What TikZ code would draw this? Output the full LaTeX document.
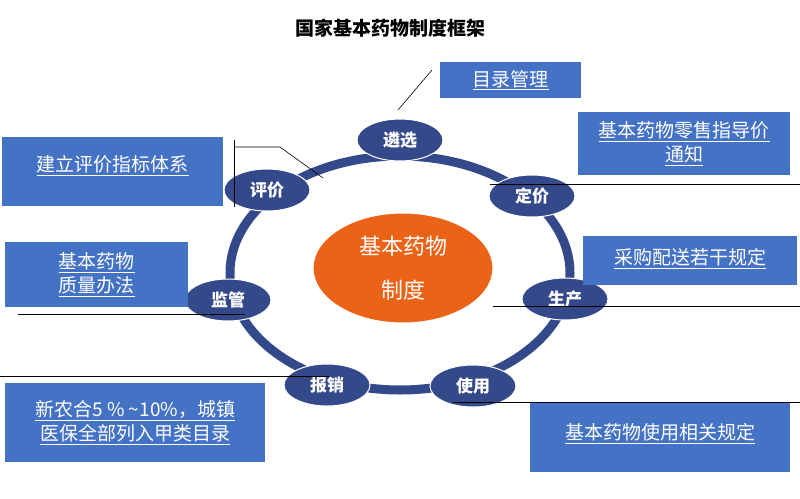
\documentclass[tikz,border=0pt]{standalone}
\usepackage{fontspec}
\setmainfont{Noto Sans CJK SC}
\newcommand\myul[1]{\underline{#1}}
\usetikzlibrary{shapes.geometric}
\definecolor{bx}{HTML}{4472C4}
\definecolor{rg}{HTML}{34498A}
\definecolor{og}{HTML}{EB6316}
\tikzset{
 box/.style={fill=bx,text=white,font=\fontsize{19}{24}\selectfont,align=center,anchor=north west,inner sep=0pt},
 st/.style={ellipse,fill=rg,draw=white,line width=1pt,minimum width=86pt,minimum height=42pt,text=white,font=\fontsize{17}{20}\selectfont\bfseries,inner sep=0pt},
 ln/.style={black,line width=0.6pt}
}
\begin{document}
\begin{tikzpicture}[x=1pt,y=-1pt]
\useasboundingbox (0,0) rectangle (800,498);
\node[font=\fontsize{19}{22}\selectfont\bfseries] (title) at (390,28) {国家基本药物制度框架};
\draw[rg,line width=9pt] (400,273) ellipse [x radius=170, y radius=117];
\node[ellipse,fill=og,draw=white,line width=1pt,minimum width=180pt,minimum height=110pt,text=white,font=\fontsize{22}{44}\selectfont,align=center] (c) at (403,268) {基本药物\\制度};
\node[st] (s1) at (400,140) {遴选};
\node[st] (s2) at (532,196) {定价};
\node[st] (s3) at (267,190) {评价};
\node[st] (s4) at (228,300) {监管};
\node[st] (s5) at (565,299) {生产};
\node[st] (s6) at (327,385) {报销};
\node[st] (s7) at (473,386) {使用};
% boxes
\node[box,minimum width=141pt,minimum height=36pt] (b1) at (440,62) {\myul{目录管理}};
\node[box,minimum width=212pt,minimum height=63pt] (b2) at (578,112) {\myul{基本药物零售指导价}\\\myul{通知}};
\node[box,minimum width=214pt,minimum height=49pt] (b3) at (583,236) {\raisebox{8pt}{\myul{采购配送若干规定}}};
\node[box,minimum width=260pt,minimum height=69pt] (b4) at (530,403) {\raisebox{12pt}{\myul{基本药物使用相关规定}}};
\node[box,minimum width=260pt,minimum height=79pt] (b5) at (5,383) {\myul{新农合5 \% \textasciitilde10\%，城镇}\\\myul{医保全部列入甲类目录}};
\node[box,minimum width=183pt,minimum height=65pt] (b6) at (5,242) {\myul{基本药物}\\\myul{质量办法}};
\node[box,minimum width=221pt,minimum height=69pt] (b7) at (2,137) {\raisebox{16pt}{\myul{建立评价指标体系}}};
% lines
\coordinate (p1) at (398,110); \coordinate (p2) at (432,70);
\draw[ln] (p1) -- (p2);
\coordinate (v1) at (234,140); \coordinate (v2) at (234,207);
\draw[ln] (v1) -- (v2);
\coordinate (h1) at (234,147); \coordinate (h2) at (280,147); \coordinate (h3) at (323,178);
\draw[ln] (h1) -- (h2) -- (h3);
\coordinate (a1) at (490,184); \coordinate (a2) at (800,184);
\draw[ln] (a1) -- (a2);
\coordinate (c1) at (493,306); \coordinate (c2) at (800,306);
\draw[ln] (c1) -- (c2);
\coordinate (d1) at (18,314); \coordinate (d2) at (245,314);
\draw[ln] (d1) -- (d2);
\coordinate (e1) at (0,376); \coordinate (e2) at (330,376);
\draw[ln] (e1) -- (e2);
\coordinate (f1) at (453,402); \coordinate (f2) at (800,402);
\draw[ln] (f1) -- (f2);
\end{tikzpicture}
\end{document}
